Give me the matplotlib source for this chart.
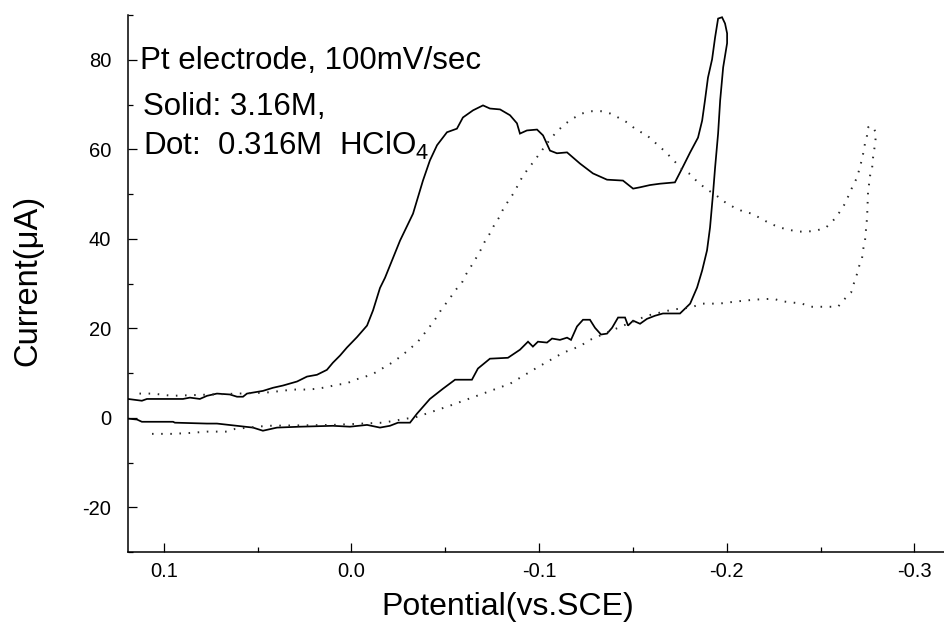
import matplotlib
matplotlib.use("Agg")
import matplotlib.pyplot as plt
from matplotlib.ticker import MultipleLocator, FixedLocator

plt.rcParams['font.family'] = ['Liberation Sans', 'DejaVu Sans']
plt.rcParams['axes.unicode_minus'] = False
plt.rcParams['mathtext.fontset'] = 'custom'
plt.rcParams['mathtext.rm'] = 'Liberation Sans'

# ---- data: 3.16 M HClO4 (solid), one CV cycle ----
solid_potential = [
    0.1191, 0.1143, 0.1117, 0.0951, 0.0941, 0.0770, 0.0717, 0.0610, 0.0525, 0.0472,
    0.0397, 0.0275, 0.0099, 0.0008, -0.0083, -0.0152, -0.0205, -0.0248, -0.0312, -0.0349,
    -0.0418, -0.0488, -0.0552, -0.0642, -0.0674, -0.0738, -0.0834, -0.0898, -0.0941, -0.0967,
    -0.0994, -0.1042, -0.1069, -0.1111, -0.1149, -0.1170, -0.1202, -0.1234, -0.1271, -0.1298,
    -0.1330, -0.1362, -0.1389, -0.1421, -0.1458, -0.1474, -0.1501, -0.1538, -0.1575, -0.1618,
    -0.1660, -0.1714, -0.1751, -0.1805, -0.1842, -0.1869, -0.1895, -0.1911, -0.1927, -0.1938,
    -0.1954, -0.1965, -0.1981, -0.2002, -0.2002, -0.1991, -0.1975, -0.1954, -0.1938, -0.1922,
    -0.1900, -0.1884, -0.1869, -0.1847, -0.1805, -0.1762, -0.1724, -0.1644, -0.1591, -0.1538,
    -0.1501, -0.1447, -0.1362, -0.1287, -0.1218, -0.1149, -0.1095, -0.1058, -0.1021, -0.0989,
    -0.0935, -0.0898, -0.0882, -0.0845, -0.0792, -0.0738, -0.0701, -0.0648, -0.0594, -0.0562,
    -0.0509, -0.0456, -0.0418, -0.0381, -0.0328, -0.0259, -0.0179, -0.0152, -0.0115, -0.0083,
    -0.0029, 0.0024, 0.0061, 0.0099, 0.0131, 0.0184, 0.0237, 0.0290, 0.0365, 0.0418,
    0.0472, 0.0557, 0.0578, 0.0610, 0.0648, 0.0717, 0.0770, 0.0808, 0.0861, 0.0898,
    0.1090, 0.1117, 0.1191,
]
solid_current = [
    -0.2, -0.4, -0.9, -0.9, -1.1, -1.3, -1.3, -1.8, -2.2, -2.9,
    -2.2, -2.0, -1.8, -2.0, -1.6, -2.2, -1.8, -1.1, -1.1, 0.9,
    4.2, 6.5, 8.5, 8.5, 11.0, 13.2, 13.4, 15.2, 17.0, 15.9,
    17.0, 16.8, 17.7, 17.4, 17.9, 17.4, 20.4, 21.9, 21.9, 20.1,
    18.6, 18.8, 20.1, 22.4, 22.4, 20.6, 21.7, 21.0, 22.1, 22.8,
    23.3, 23.3, 23.3, 25.5, 29.1, 32.9, 37.4, 42.5, 50.1, 55.9,
    63.5, 70.9, 78.3, 83.7, 85.9, 88.1, 89.5, 89.2, 85.0, 80.1,
    76.0, 70.9, 66.4, 62.6, 59.3, 55.7, 52.6, 52.3, 52.0, 51.5,
    51.2, 53.0, 53.2, 54.6, 56.8, 59.3, 59.1, 59.7, 63.1, 64.4,
    64.2, 63.5, 65.8, 67.6, 68.9, 69.1, 69.8, 68.7, 67.1, 64.6,
    63.8, 60.9, 57.5, 53.0, 45.6, 39.6, 31.3, 29.0, 24.0, 20.6,
    18.0, 15.7, 13.9, 12.3, 10.7, 9.6, 9.2, 8.1, 7.2, 6.7,
    6.0, 5.4, 4.7, 4.7, 5.2, 5.4, 4.9, 4.2, 4.5, 4.2,
    4.2, 3.8, 4.2,
]

# ---- data: 0.316 M HClO4 (dotted), one CV cycle ----
dot_potential = [
    0.1063, 0.0957, 0.0861, 0.0770, 0.0664, 0.0621, 0.0450, 0.0275, 0.0099, -0.0168,
    -0.0349, -0.0525, -0.0701, -0.0845, -0.0989, -0.1127, -0.1218, -0.1271, -0.1421, -0.1575,
    -0.1714, -0.1805, -0.1869, -0.1959, -0.2055, -0.2151, -0.2247, -0.2300, -0.2401, -0.2449,
    -0.2540, -0.2593, -0.2625, -0.2663, -0.2679, -0.2695, -0.2705, -0.2721, -0.2727, -0.2737,
    -0.2748, -0.2753, -0.2764, -0.2775, -0.2780, -0.2791, -0.2796, -0.2780, -0.2753, -0.2748,
    -0.2737, -0.2727, -0.2716, -0.2695, -0.2673, -0.2652, -0.2631, -0.2604, -0.2577, -0.2529,
    -0.2476, -0.2428, -0.2380, -0.2332, -0.2284, -0.2231, -0.2183, -0.2135, -0.2087, -0.2039,
    -0.1986, -0.1938, -0.1895, -0.1847, -0.1799, -0.1757, -0.1709, -0.1666, -0.1618, -0.1575,
    -0.1517, -0.1469, -0.1421, -0.1378, -0.1330, -0.1282, -0.1229, -0.1181, -0.1133, -0.1085,
    -0.1042, -0.0983, -0.0914, -0.0866, -0.0813, -0.0786, -0.0760, -0.0738, -0.0711, -0.0690,
    -0.0663, -0.0637, -0.0610, -0.0589, -0.0552, -0.0520, -0.0482, -0.0456, -0.0429, -0.0392,
    -0.0354, -0.0306, -0.0259, -0.0216, -0.0163, -0.0115, -0.0061, -0.0019, 0.0029, 0.0077,
    0.0125, 0.0179, 0.0232, 0.0317, 0.0370, 0.0461, 0.0808, 0.0957, 0.1058, 0.1143,
]
dot_current = [
    -3.6, -3.6, -3.4, -3.1, -3.1, -2.5, -1.8, -1.7, -1.6, -1.1,
    0.2, 2.7, 5.4, 7.6, 11.2, 14.5, 16.0, 17.4, 20.1, 22.8,
    24.2, 24.6, 25.5, 25.5, 26.0, 26.4, 26.6, 26.0, 25.5, 24.8,
    24.8, 24.8, 26.4, 28.0, 30.2, 32.2, 33.8, 35.6, 37.6, 39.6,
    44.7, 50.3, 54.1, 55.9, 58.2, 61.3, 63.5, 65.1, 64.9, 63.1,
    61.3, 59.0, 57.0, 53.7, 51.9, 49.9, 47.9, 46.1, 44.5, 42.5,
    41.8, 41.6, 41.6, 42.0, 42.5, 43.4, 44.5, 45.6, 46.1, 47.0,
    48.3, 49.9, 51.0, 52.6, 54.6, 55.7, 57.9, 59.7, 61.5, 63.1,
    64.4, 66.0, 67.1, 68.0, 68.5, 68.5, 68.0, 66.9, 65.5, 63.5,
    61.3, 57.9, 54.1, 50.3, 47.0, 44.7, 43.0, 41.2, 39.4, 37.6,
    35.6, 33.8, 32.0, 30.2, 28.4, 26.4, 24.4, 22.6, 21.0, 19.0,
    17.0, 15.2, 13.6, 12.3, 11.0, 9.8, 9.0, 8.5, 7.6, 7.4,
    6.9, 6.5, 6.3, 6.3, 6.0, 5.6, 5.1, 4.9, 5.4, 5.4,
]

x_ticks = [0.1, 0.0, -0.1, -0.2, -0.3]
x_ticklabels = ["0.1", "0.0", "-0.1", "-0.2", "-0.3"]
y_ticks = [-20, 0, 20, 40, 60, 80]
y_ticklabels = ["-20", "0", "20", "40", "60", "80"]

fig = plt.figure(figsize=(9.44, 6.29), dpi=100)
ax = fig.add_axes([128 / 944, 77 / 629, 816 / 944, 537 / 629])

ax.plot(solid_potential, solid_current, color='black', lw=1.25, solid_joinstyle='miter')
ax.plot(dot_potential, dot_current, color='#282828', lw=1.4,
        linestyle=(0, (0.8, 3.9)))

ax.set_xlim(0.1191, -0.3158)
ax.set_ylim(-30, 90)

ax.spines['top'].set_visible(False)
ax.spines['right'].set_visible(False)
for s in ('left', 'bottom'):
    ax.spines[s].set_linewidth(1.1)

ax.xaxis.set_major_locator(FixedLocator(x_ticks))
ax.set_xticklabels(x_ticklabels)
ax.xaxis.set_minor_locator(MultipleLocator(0.05))
ax.yaxis.set_major_locator(FixedLocator(y_ticks))
ax.set_yticklabels(y_ticklabels)
ax.yaxis.set_minor_locator(MultipleLocator(10))

ax.tick_params(which='major', direction='in', length=6.5, width=0.9, labelsize=14.5)
ax.tick_params(which='minor', direction='in', length=3.6, width=0.9)
ax.tick_params(axis='y', which='major', pad=12)
ax.tick_params(axis='x', which='major', pad=7.5)

ax.set_xlabel("Potential(vs.SCE)", fontsize=23)
ax.set_ylabel("Current(\u03bcA)", fontsize=23.5)
ax.xaxis.set_label_coords(0.4657, -0.074)
ax.yaxis.set_label_coords(-0.104, 0.505)

ax.text(0.0147, 0.899, "Pt electrode, 100mV/sec", transform=ax.transAxes,
        fontsize=22.5, ha='left', va='baseline')
ax.text(0.0184, 0.8138, "Solid: 3.16M,", transform=ax.transAxes,
        fontsize=22.5, ha='left', va='baseline')
ax.text(0.0184, 0.7393, "Dot:  0.316M  HClO$_{\\mathregular{4}}$", transform=ax.transAxes,
        fontsize=22.5, ha='left', va='baseline')

fig.savefig("out.png", dpi=100)
